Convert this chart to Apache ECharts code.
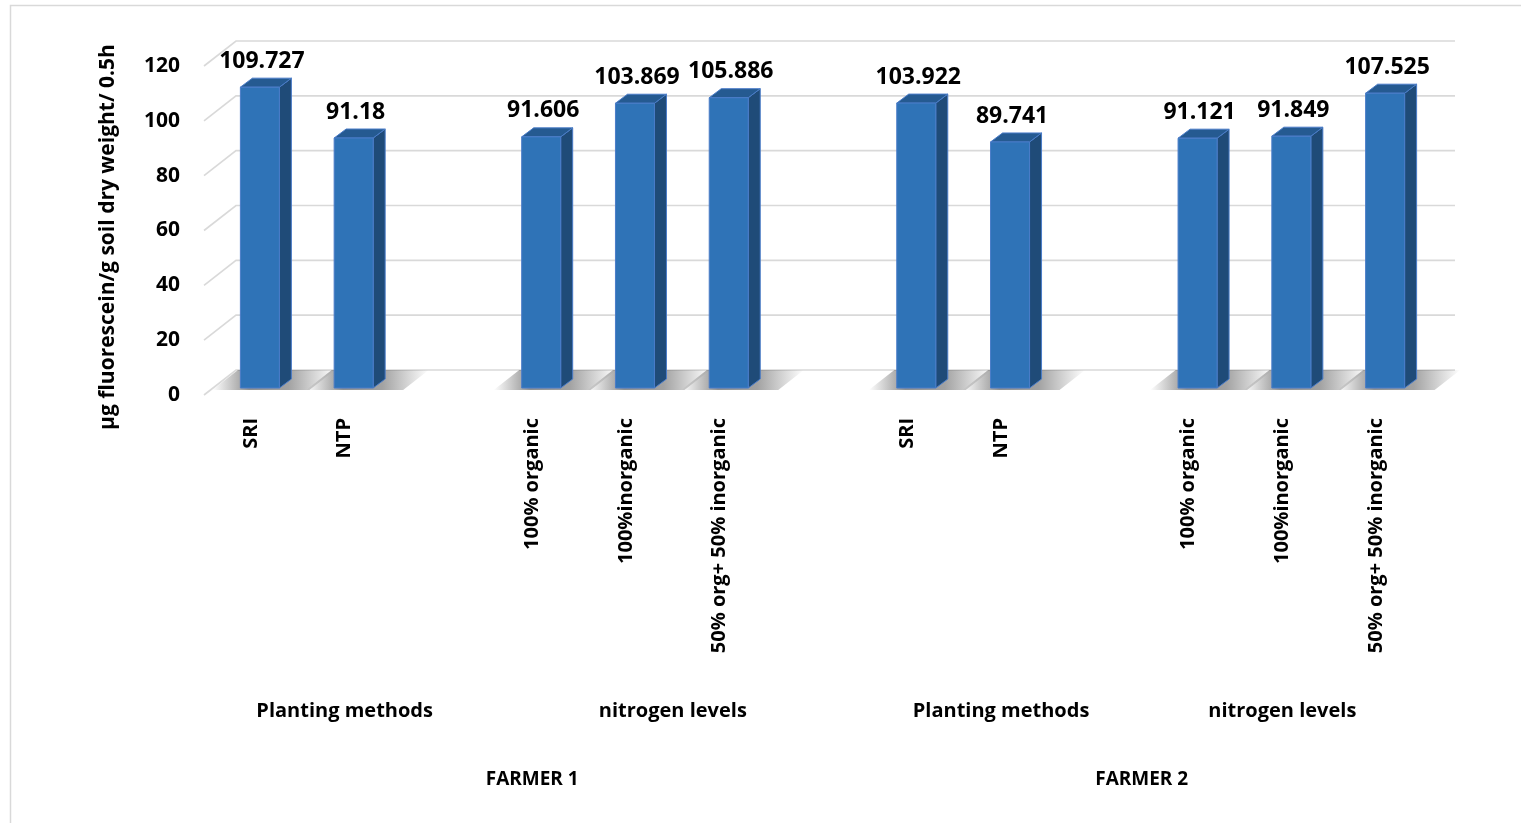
<!DOCTYPE html>
<html>
<head>
<meta charset="utf-8">
<script src="https://cdn.jsdelivr.net/npm/echarts@6/dist/echarts.min.js"></script>
<style>
html,body{margin:0;padding:0;background:#fff;}
#main{width:1521px;height:823px;}
</style>
</head>
<body>
<div id="main"></div>
<script>
// ---- data ----
const categories = ['SRI', 'NTP', '', '100% organic', '100%inorganic', '50% org+ 50% inorganic', '',
                    'SRI', 'NTP', '', '100% organic', '100%inorganic', '50% org+ 50% inorganic'];
const values = [109.727, 91.18, null, 91.606, 103.869, 105.886, null,
                103.922, 89.741, null, 91.121, 91.849, 107.525];
const valueLabels = ['109.727', '91.18', '', '91.606', '103.869', '105.886', '',
                     '103.922', '89.741', '', '91.121', '91.849', '107.525'];
const yTicks = [0, 20, 40, 60, 80, 100, 120];
const groupLabels = ['Planting methods', 'nitrogen levels', 'Planting methods', 'nitrogen levels'];
const groupSpans = [[0, 2], [3, 6], [7, 9], [10, 12]];
const farmerLabels = ['FARMER 1', 'FARMER 2'];
const farmerSpans = [[0, 6], [7, 12]];
const yTitle = 'µg fluorescein/g soil dry weight/ 0.5h';

// ---- style constants ----
const FONT = '"Open Sans", Lato, sans-serif';
const WALL_DX = 32, WALL_DY = -25;   // depth of back wall
const BAR_SX = 9, BAR_SY = -7;       // bar front-face offset from front plane
const BAR_DX = 12, BAR_DY = -9;      // bar depth
const BAR_W = 0.416;                 // share of category band
const GRID_COLOR = '#D9D9D9';

const chart = echarts.init(document.getElementById('main'), null, {renderer: 'canvas'});

function renderGrid(params, api) {
  const t = api.value(1);
  const y = api.coord([0, t])[1];
  const cs = params.coordSys;
  return {
    type: 'polyline',
    shape: {points: [[cs.x, y], [cs.x + WALL_DX, y + WALL_DY], [cs.x + cs.width + WALL_DX, y + WALL_DY]]},
    style: {stroke: GRID_COLOR, lineWidth: 1.6, fill: null}
  };
}

function renderShadow(params, api) {
  const v = api.value(1);
  if (v == null || isNaN(v)) return null;
  const i = api.value(0);
  const p0 = api.coord([i, 0]);
  const w = api.size([1, 0])[0] * BAR_W;
  const xl = p0[0] + BAR_SX - w / 2, xr = xl + w + BAR_DX;
  const yf = p0[1] - 5, yb = p0[1] + WALL_DY;
  const sdx = (yf - yb) * WALL_DX / -WALL_DY;
  return {
    type: 'polygon',
    shape: {points: [[xl - 28, yf], [xr + 18, yf], [xr + 18 + sdx, yb], [xl - 28 + sdx, yb]]},
    style: {
      fill: {
        type: 'linear', x: 0, y: 0, x2: 1, y2: 0,
        colorStops: [
          {offset: 0, color: 'rgba(70,70,70,0)'},
          {offset: 0.3, color: 'rgba(70,70,70,0.6)'},
          {offset: 0.62, color: 'rgba(70,70,70,0.5)'},
          {offset: 1, color: 'rgba(70,70,70,0)'}
        ]
      }
    }
  };
}

function renderBar(params, api) {
  const v = api.value(1);
  if (v == null || isNaN(v)) return null;
  const i = api.value(0);
  const p0 = api.coord([i, 0]);
  const p1 = api.coord([i, v]);
  const w = api.size([1, 0])[0] * BAR_W;
  const xl = p0[0] + BAR_SX - w / 2, xr = xl + w;
  const yb = p0[1] + BAR_SY, yt = p1[1] + BAR_SY;
  const edge = '#4A7CC8';
  return {
    type: 'group',
    children: [
      {type: 'polygon', shape: {points: [[xr, yb], [xr + BAR_DX, yb + BAR_DY], [xr + BAR_DX, yt + BAR_DY], [xr, yt]]},
       style: {fill: '#1F4B78', stroke: edge, lineWidth: 1}},
      {type: 'polygon', shape: {points: [[xl, yt], [xl + BAR_DX, yt + BAR_DY], [xr + BAR_DX, yt + BAR_DY], [xr, yt]]},
       style: {fill: '#255A91', stroke: edge, lineWidth: 1}},
      {type: 'rect', shape: {x: xl, y: yt, width: w, height: yb - yt},
       style: {fill: '#2F73B7', stroke: edge, lineWidth: 1}},
      {type: 'text', x: xl + w / 2 + 2, y: yt + BAR_DY - 17,
       style: {text: valueLabels[i], font: 'bold 23px ' + FONT, fill: '#000', align: 'center', verticalAlign: 'middle'}}
    ]
  };
}

const barData = values.map((v, i) => [i, v]);
const gridData = yTicks.map(t => [0, t]);

chart.setOption({
  backgroundColor: '#fff',
  animation: false,
  grid: {left: 204, right: 98, top: 66, bottom: 428, containLabel: false},
  xAxis: {
    type: 'category',
    data: categories,
    axisLine: {show: false},
    axisTick: {show: false},
    splitLine: {show: false},
    axisLabel: {
      interval: 0, rotate: 90, margin: 23,
      color: '#000', fontFamily: FONT, fontWeight: 'bold', fontSize: 20
    }
  },
  yAxis: {
    type: 'value', min: 0, max: 120, interval: 20,
    axisLine: {show: false},
    axisTick: {show: false},
    splitLine: {show: false},
    axisLabel: {margin: 24, color: '#000', fontFamily: FONT, fontWeight: 'bold', fontSize: 21,
                formatter: v => String(v)}
  },
  series: [
    {type: 'custom', name: 'grid', data: gridData, renderItem: renderGrid, clip: false, z: 1, silent: true},
    {type: 'custom', name: 'shadow', data: barData, renderItem: renderShadow, clip: false, z: 2, silent: true},
    {type: 'custom', name: 'bars', data: barData, renderItem: renderBar, clip: false, z: 3}
  ]
});

// graphic elements: frame, y title, group labels
const px = i => chart.convertToPixel({xAxisIndex: 0}, i);
const graphics = [
  {type: 'rect', shape: {x: 10.5, y: 5.5, width: 1540, height: 850},
   style: {fill: null, stroke: '#D9D9D9', lineWidth: 1.5}, silent: true, z: -10},
  {type: 'text', x: 108, y: 237, rotation: Math.PI / 2,
   style: {text: yTitle, font: 'bold 21px ' + FONT, fill: '#000', align: 'center', verticalAlign: 'middle'}}
];
groupLabels.forEach((g, k) => {
  const s = groupSpans[k];
  graphics.push({type: 'text', x: (px(s[0]) + px(s[1])) / 2, y: 711,
    style: {text: g, font: 'bold 20px ' + FONT, fill: '#000', align: 'center', verticalAlign: 'middle'}});
});
farmerLabels.forEach((g, k) => {
  const s = farmerSpans[k];
  graphics.push({type: 'text', x: (px(s[0]) + px(s[1])) / 2, y: 780,
    style: {text: g, font: 'bold 19px ' + FONT, fill: '#000', align: 'center', verticalAlign: 'middle'}});
});
chart.setOption({graphic: graphics});
</script>
</body>
</html>
